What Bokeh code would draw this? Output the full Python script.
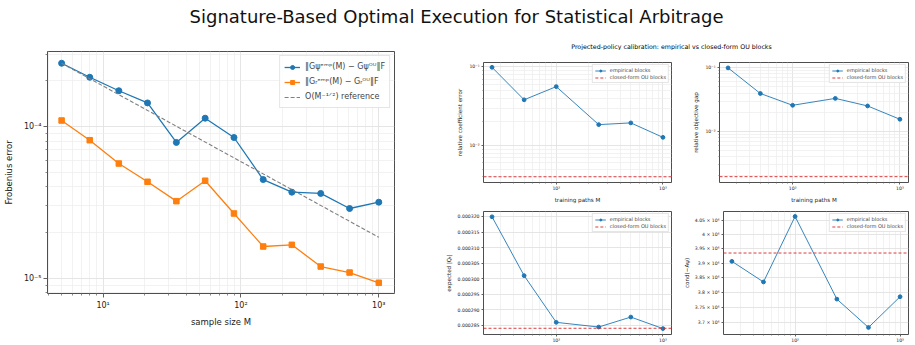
from bokeh.plotting import figure
from bokeh.layouts import column, row
from bokeh.models import (Range1d, FixedTicker, CustomJSTickFormatter,
                          PrintfTickFormatter, Label)
from bokeh.embed import file_html
from bokeh.resources import INLINE

# ---------------- data ----------------
sample_size = [5, 8, 13, 21, 34, 55, 89, 145, 234, 379, 614, 1000]
err_psi = [2.61e-4, 2.11e-4, 1.72e-4, 1.43e-4, 7.85e-5, 1.134e-4,
           8.46e-5, 4.47e-5, 3.69e-5, 3.62e-5, 2.88e-5, 3.17e-5]
err_r = [1.095e-4, 8.12e-5, 5.70e-5, 4.32e-5, 3.22e-5, 4.39e-5,
         2.67e-5, 1.618e-5, 1.66e-5, 1.194e-5, 1.09e-5, 9.33e-6]
ref_M = [5, 1000]
ref_err = [2.61e-4, 1.86e-5]

training_paths = [25, 50, 100, 250, 500, 1000]
coef_err_emp = [0.099, 0.0382, 0.0562, 0.01845, 0.0194, 0.0127]
coef_err_ou = 4.0e-3
obj_gap_emp = [0.0995, 0.0394, 0.0257, 0.0330, 0.0251, 0.0155]
obj_gap_ou = 1.94e-3
exp_q_emp = [0.0003199, 0.000301, 0.000286, 0.0002845, 0.0002877, 0.000284]
exp_q_ou = 0.0002841
cond_emp = [3.906e6, 3.835e6, 4.065e6, 3.777e6, 3.683e6, 3.785e6]
cond_ou = 3.935e6

main_title = "Signature-Based Optimal Execution for Statistical Arbitrage"
sub_title = "Projected-policy calibration: empirical vs closed-form OU blocks"

FONT = "DejaVu Sans"
BLUE = "#1f77b4"
ORANGE = "#ff7f0e"
RED = "#d62728"
GRAY = "#808080"

LOG_FMT = CustomJSTickFormatter(code="""
const e = Math.round(Math.log10(tick));
if (Math.abs(Math.log10(tick) - e) > 1e-6) { return ""; }
const sup = {"-":"\u207b","0":"\u2070","1":"\u00b9","2":"\u00b2","3":"\u00b3","4":"\u2074","5":"\u2075","6":"\u2076","7":"\u2077","8":"\u2078","9":"\u2079"};
return "10" + String(e).split("").map(c => sup[c]).join("");
""")


def log_minor(lo, hi):
    return [m * 10.0 ** e for e in range(lo, hi + 1) for m in range(2, 10)]


def style(p, tick_px, label_px, tick_out, minor_out):
    p.outline_line_color = "#3a3a3a"
    p.outline_line_width = 0.9
    p.background_fill_color = "white"
    p.border_fill_color = "white"
    for ax in p.axis:
        ax.axis_line_color = None
        ax.major_tick_in = 0
        ax.minor_tick_in = 0
        ax.major_tick_out = tick_out
        ax.minor_tick_out = minor_out
        ax.major_tick_line_color = "#3a3a3a"
        ax.minor_tick_line_color = "#3a3a3a"
        ax.major_tick_line_width = 0.8
        ax.minor_tick_line_width = 0.6
        ax.major_label_text_font = FONT
        ax.major_label_text_font_size = f"{tick_px}px"
        ax.major_label_text_color = "#222222"
        ax.axis_label_text_font = FONT
        ax.axis_label_text_font_size = f"{label_px}px"
        ax.axis_label_text_font_style = "normal"
        ax.axis_label_text_color = "#222222"
    for g in p.grid:
        g.grid_line_color = "#dedede"
        g.grid_line_width = 0.8
        g.minor_grid_line_color = "#ececec"
        g.minor_grid_line_width = 0.7


# ---------------- header ----------------
W = 915
header = figure(width=W, height=50, x_range=Range1d(0, W), y_range=Range1d(0, 50),
                x_axis_location=None, y_axis_location=None, toolbar_location=None,
                output_backend="svg", min_border=0)
header.outline_line_color = None
header.grid.visible = False
header.add_layout(Label(x=456, y=34, text=main_title, text_align="center",
                        text_baseline="middle", text_font=FONT,
                        text_font_size="18px", text_color="#111111"))
header.add_layout(Label(x=671, y=4, text=sub_title, text_align="center",
                        text_baseline="middle", text_font=FONT,
                        text_font_size="6.3px", text_color="#000000"))

# ---------------- left panel ----------------
left = figure(width=440, height=295, x_axis_type="log", y_axis_type="log",
              x_range=Range1d(3.95, 1300), y_range=Range1d(7.93e-6, 3.12e-4),
              toolbar_location=None, output_backend="svg",
              min_border_left=44, min_border_right=46, min_border_top=1,
              min_border_bottom=52)
style(left, 8, 8.5, 4, 2)
left.xaxis.ticker = FixedTicker(ticks=[10, 100, 1000], minor_ticks=log_minor(0, 2))
left.yaxis.ticker = FixedTicker(ticks=[1e-5, 1e-4], minor_ticks=log_minor(-6, -4))
left.xaxis.formatter = LOG_FMT
left.yaxis.formatter = LOG_FMT
left.xaxis.axis_label = "sample size M"
left.yaxis.axis_label = "Frobenius error"
left.xaxis.major_label_standoff = 3
left.yaxis.major_label_standoff = 2
left.xaxis.axis_label_standoff = 4
left.yaxis.axis_label_standoff = 7

lab_psi = "\u2016G\u03c8\u1d49\u1d50\u1d56(M) \u2212 G\u03c8\u1d3c\u1d41\u2016F"
lab_r = "\u2016G\u1d63\u1d49\u1d50\u1d56(M) \u2212 G\u1d63\u1d3c\u1d41\u2016F"
lab_ref = "O(M\u207b\u00b9\u141f\u00b2) reference"

left.line(sample_size, err_psi, color=BLUE, line_width=1.3, legend_label=lab_psi)
left.scatter(sample_size, err_psi, marker="circle", size=6, color=BLUE, legend_label=lab_psi)
left.line(sample_size, err_r, color=ORANGE, line_width=1.3, legend_label=lab_r)
left.scatter(sample_size, err_r, marker="square", size=5.5, color=ORANGE, legend_label=lab_r)
left.line(ref_M, ref_err, color=GRAY, line_width=1.1, line_dash="4 2", legend_label=lab_ref)

lg = left.legend[0]
lg.location = "top_right"
lg.margin = 4
lg.padding = 4
lg.spacing = 2
lg.label_height = 13
lg.glyph_height = 10
lg.glyph_width = 16
lg.label_standoff = 5
lg.label_text_font = FONT
lg.label_text_font_size = "8px"
lg.border_line_color = "#cccccc"
lg.border_line_width = 0.8
lg.background_fill_alpha = 0.85

# ---------------- right panels ----------------
XR = (20.8, 1203)


def small_panel(width, height, left_b, right_b, top_b, bottom_b, y_type, y_rng):
    p = figure(width=width, height=height, x_axis_type="log", y_axis_type=y_type,
               x_range=Range1d(*XR), y_range=Range1d(*y_rng),
               toolbar_location=None, output_backend="svg",
               min_border_left=left_b, min_border_right=right_b,
               min_border_top=top_b, min_border_bottom=bottom_b)
    style(p, 4.6, 5.6, 2, 1)
    p.xaxis.ticker = FixedTicker(ticks=[100, 1000], minor_ticks=log_minor(1, 2))
    p.xaxis.formatter = LOG_FMT
    p.xaxis.major_label_standoff = 1
    p.yaxis.major_label_standoff = 2
    p.xaxis.axis_label_standoff = 3
    return p


def add_series(p, y_emp, y_ou):
    p.line(training_paths, y_emp, color=BLUE, line_width=0.9, legend_label="empirical blocks")
    p.scatter(training_paths, y_emp, marker="circle", size=3.8, color=BLUE,
              legend_label="empirical blocks")
    p.line([XR[0], XR[1]], [y_ou, y_ou], color=RED, line_width=0.9, line_dash="3 2",
           legend_label="closed-form OU blocks")
    lg = p.legend[0]
    lg.location = "top_right"
    lg.margin = 2
    lg.padding = 2
    lg.spacing = 1
    lg.label_height = 6
    lg.glyph_height = 5
    lg.glyph_width = 11
    lg.label_standoff = 4
    lg.label_text_font = FONT
    lg.label_text_font_size = "5px"
    lg.border_line_color = "#cccccc"
    lg.border_line_width = 0.6
    lg.background_fill_alpha = 0.85


tl = small_panel(240, 155, 43, 9, 12, 20, "log", (3.38e-3, 0.114))
tl.yaxis.ticker = FixedTicker(ticks=[1e-2, 1e-1], minor_ticks=log_minor(-3, -1))
tl.yaxis.formatter = LOG_FMT
tl.xaxis.axis_label = "training paths M"
tl.yaxis.axis_label = "relative coefficient error"
tl.yaxis.axis_label_standoff = 3
add_series(tl, coef_err_emp, coef_err_ou)

tr = small_panel(235, 155, 39, 7, 12, 20, "log", (1.57e-3, 0.121))
tr.yaxis.ticker = FixedTicker(ticks=[1e-2, 1e-1], minor_ticks=log_minor(-3, -1))
tr.yaxis.formatter = LOG_FMT
tr.xaxis.axis_label = "training paths M"
tr.yaxis.axis_label = "relative objective gap"
tr.yaxis.axis_label_standoff = 3
add_series(tr, obj_gap_emp, obj_gap_ou)

bl = small_panel(240, 140, 43, 9, 6, 11, "linear", (0.0002821, 0.0003216))
bl.yaxis.ticker = FixedTicker(ticks=[0.000285, 0.000290, 0.000295, 0.000300,
                                     0.000305, 0.000310, 0.000315, 0.000320])
bl.yaxis.formatter = PrintfTickFormatter(format="%.6f")
bl.yaxis.axis_label = "expected |Q\u209c|"
bl.yaxis.axis_label_standoff = 3
add_series(bl, exp_q_emp, exp_q_ou)

br = small_panel(235, 140, 39, 7, 6, 11, "log", (3.66e6, 4.083e6))
br.yaxis.ticker = FixedTicker(ticks=[3.70e6, 3.75e6, 3.80e6, 3.85e6, 3.90e6,
                                     3.95e6, 4.00e6, 4.05e6])
br.yaxis.formatter = CustomJSTickFormatter(
    code="return parseFloat((tick/1e6).toFixed(2)).toString() + ' \u00d7 10\u2076';")
br.yaxis.axis_label = "cond(\u2212A\u03c8)"
br.yaxis.axis_label_standoff = 2
add_series(br, cond_emp, cond_ou)

layout = column(header,
                row(left, column(row(tl, tr), row(bl, br))))

open("out.html", "w").write(file_html(layout, INLINE))
